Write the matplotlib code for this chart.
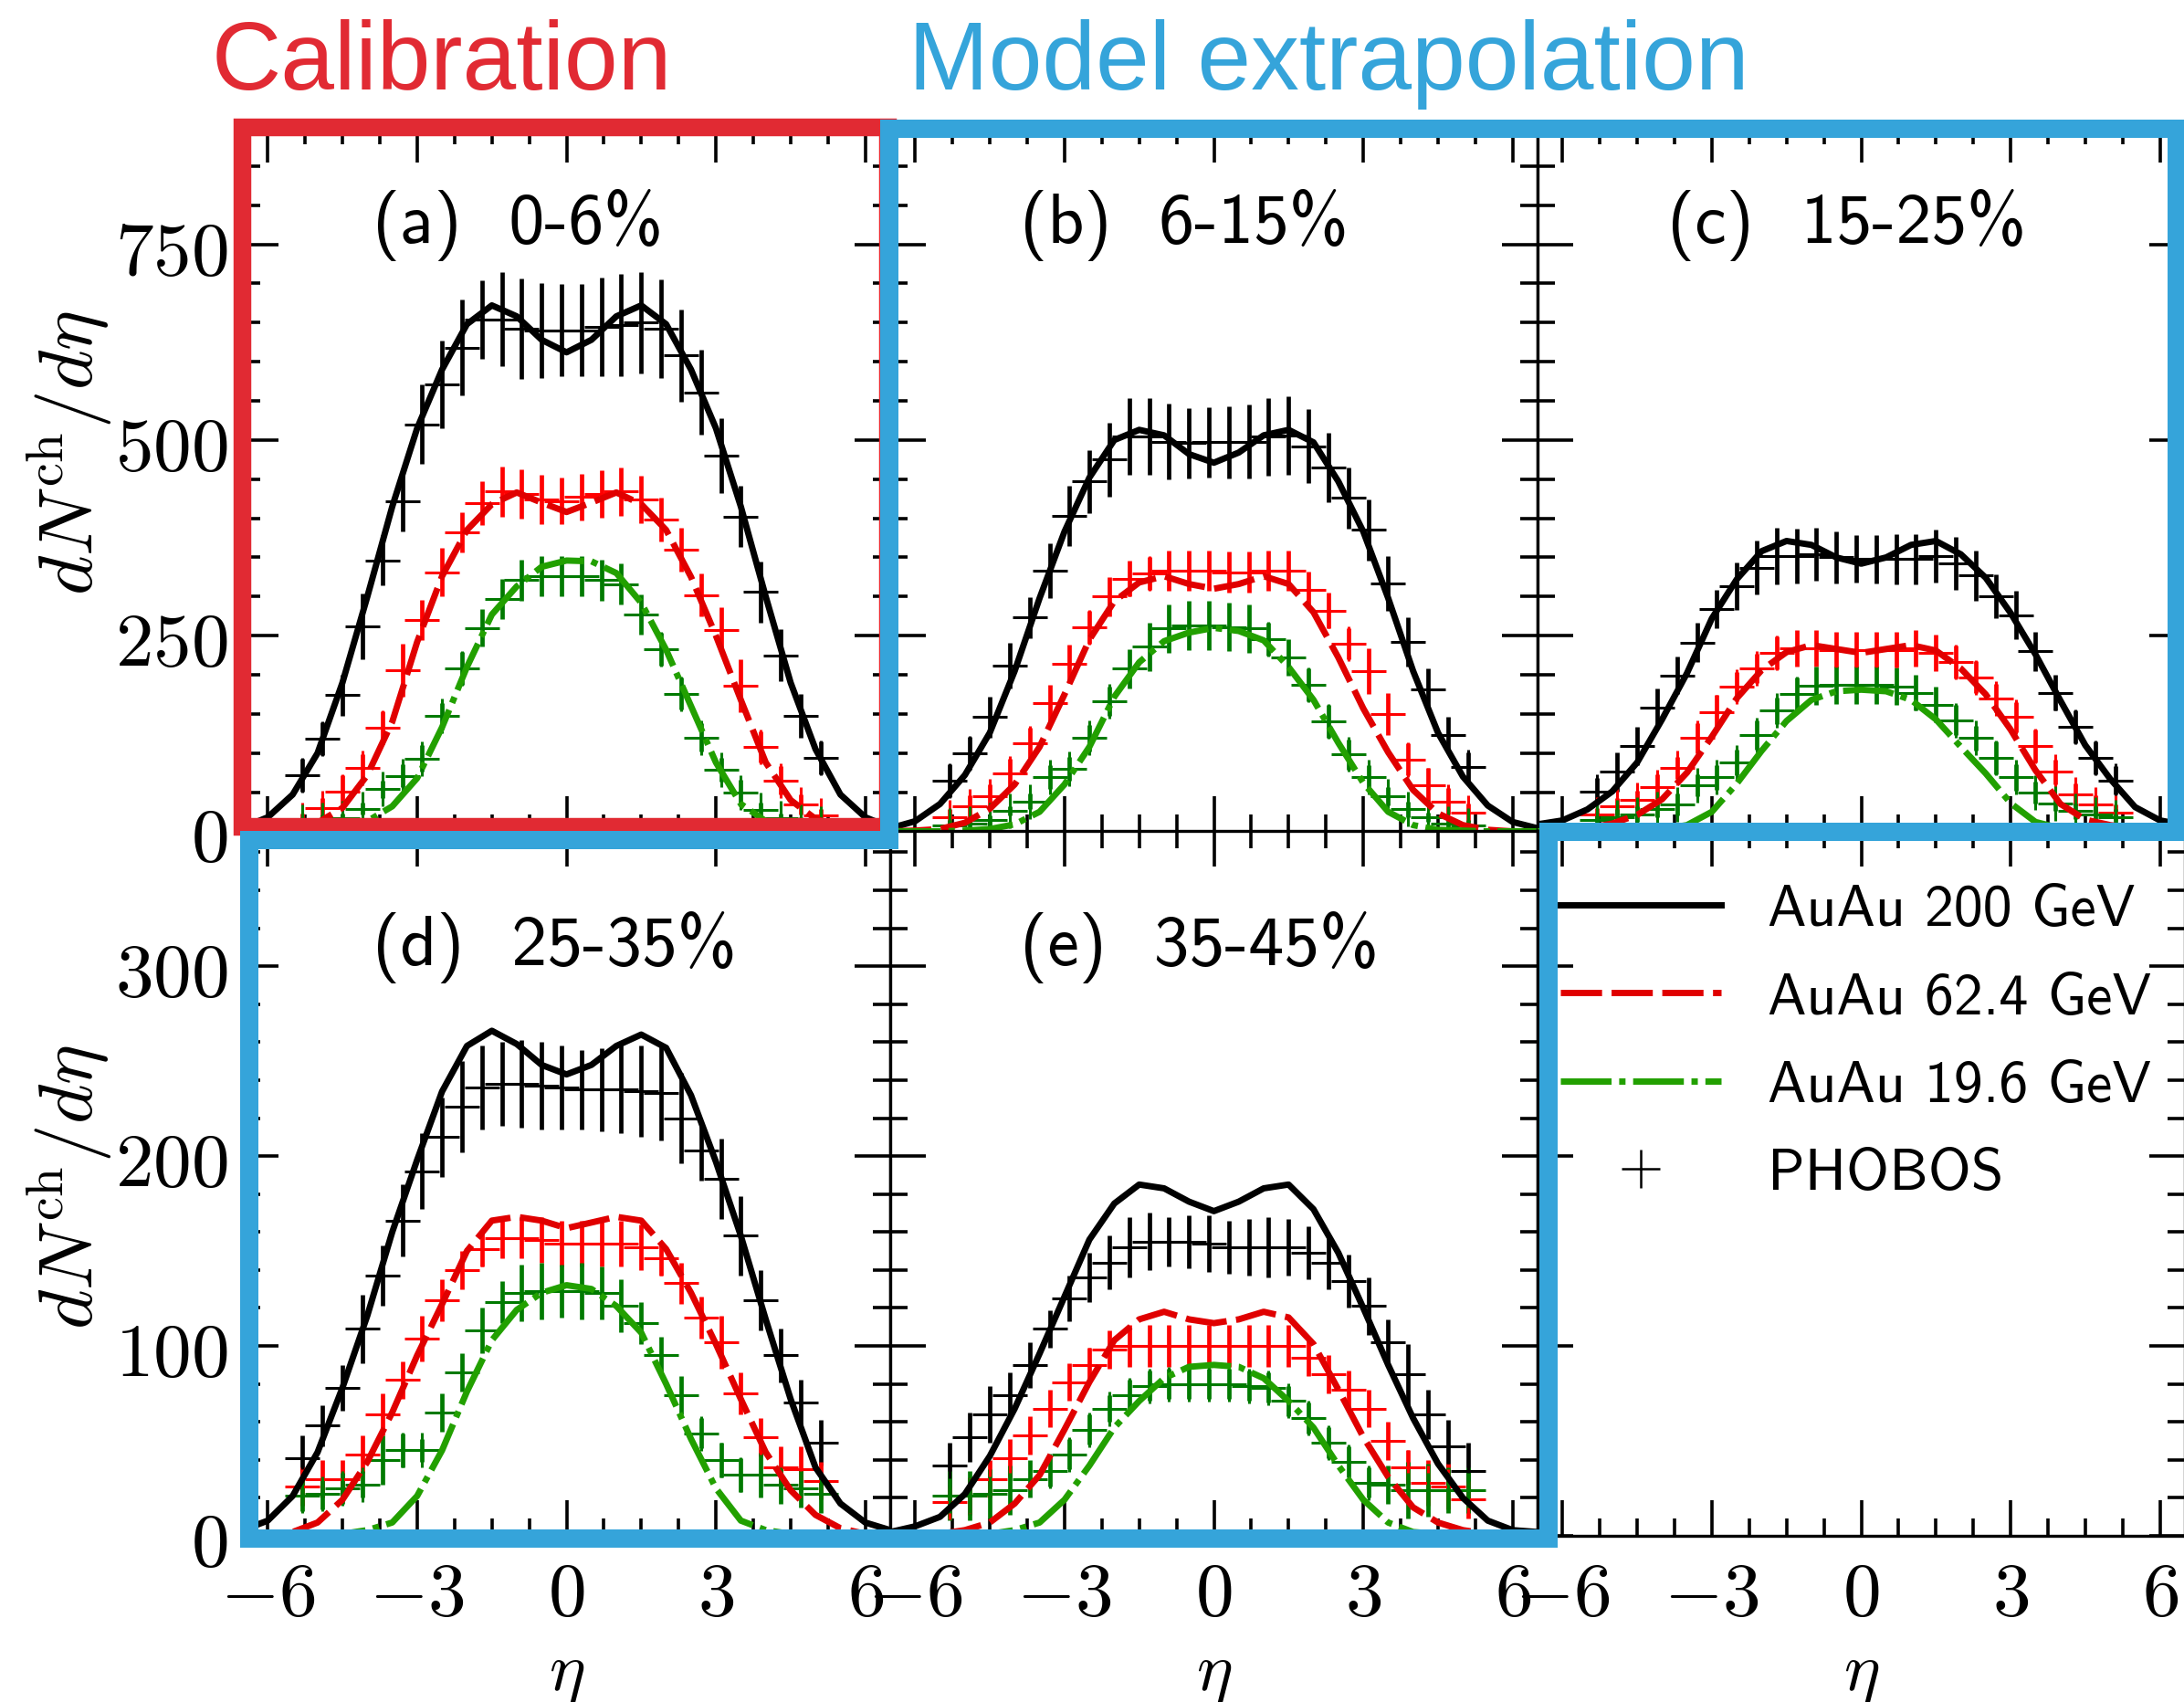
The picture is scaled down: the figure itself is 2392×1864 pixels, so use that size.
import os
import numpy as np
import matplotlib
matplotlib.use("Agg")
import matplotlib.pyplot as plt
from matplotlib import font_manager
from matplotlib.font_manager import FontProperties
from matplotlib.ticker import MultipleLocator, FuncFormatter, NullFormatter
from matplotlib.patches import Polygon

# Computer Modern sans for panel tags and legend text
cmss_path = os.path.join(matplotlib.get_data_path(), "fonts", "ttf", "cmss10.ttf")
font_manager.fontManager.addfont(cmss_path)

plt.rcParams["mathtext.fontset"] = "cm"
plt.rcParams["font.family"] = ["DejaVu Sans"]

# pseudorapidity of the PHOBOS points and of the model grid
eta = [-5.3, -4.9, -4.5, -4.1, -3.7, -3.3, -2.9, -2.5, -2.1, -1.7, -1.3, -0.9, -0.5, -0.1,
       0.3, 0.7, 1.1, 1.5, 1.9, 2.3, 2.7, 3.1, 3.5, 3.9, 4.3, 4.7, 5.1]
eta_model = [-6.5, -6.0, -5.5, -5.0, -4.5, -4.0, -3.5, -3.0, -2.5, -2.0, -1.5, -1.0, -0.5, 0.0,
             0.5, 1.0, 1.5, 2.0, 2.5, 3.0, 3.5, 4.0, 4.5, 5.0, 5.5, 6.0, 6.5]

# (a) 0-6%
a200 = [72, 118, 174, 262, 346, 422, 520, 571, 618, 654, 654, 642, 640, 640, 640, 645, 647, 650, 642, 608, 561, 480, 402, 306, 225, 148, 94]
a200_err = [21, 21, 26, 42, 32, 39, 51, 56, 61, 50, 60, 64, 61, 59, 59, 63, 65, 65, 63, 59, 54, 48, 39, 39, 33, 28, 21]
a62 = [15, 30, 51, 81, 132, 206, 270, 331, 382, 419, 434, 431, 424, 422, 427, 431, 434, 424, 398, 360, 302, 257, 186, 108, 65, 34, 20]
a62_err = [8, 12, 21, 17, 21, 34, 26, 31, 26, 28, 32, 32, 31, 30, 30, 30, 31, 30, 28, 28, 27, 29, 34, 20, 18, 13, 8]
a19 = [12, 15, 17, 29, 54, 71, 93, 147, 208, 260, 297, 321, 326, 326, 326, 321, 316, 277, 233, 176, 120, 79, 49, 27, 17, 12, 10]
a19_err = [6, 6, 6, 8, 11, 15, 17, 17, 21, 24, 26, 26, 26, 26, 26, 26, 26, 26, 21, 20, 18, 15, 17, 10, 6, 6, 6]
m_a200 = [5, 18, 47, 100, 190, 300, 415, 515, 590, 648, 672, 658, 628, 612, 628, 658, 672, 648, 590, 515, 415, 300, 190, 105, 47, 18, 5]
m_a62 = [0, 1, 4, 11, 30, 72, 140, 242, 326, 385, 418, 433, 420, 408, 420, 433, 418, 385, 325, 250, 168, 88, 40, 16, 5, 1, 0]
m_a19 = [0, 0, 0, 1, 4, 13, 32, 68, 133, 210, 277, 313, 338, 346, 345, 330, 292, 232, 160, 88, 35, 13, 4, 1, 0, 0, 0]

# (b) 6-15%
b200 = [65, 100, 146, 212, 273, 333, 403, 447, 475, 504, 504, 498, 496, 497, 497, 498, 504, 506, 492, 465, 426, 385, 317, 242, 181, 123, 82]
b200_err = [21, 21, 26, 29, 26, 35, 39, 40, 47, 49, 49, 48, 45, 45, 46, 47, 50, 50, 47, 44, 39, 39, 35, 32, 27, 23, 19]
b62 = [18, 32, 45, 74, 113, 164, 214, 261, 300, 323, 329, 333, 333, 333, 331, 331, 333, 333, 309, 282, 240, 205, 150, 92, 59, 38, 24]
b62_err = [10, 14, 15, 19, 19, 23, 25, 21, 25, 23, 21, 26, 26, 26, 26, 26, 26, 26, 23, 23, 20, 29, 27, 20, 22, 17, 12]
b19 = [8, 10, 14, 26, 38, 69, 80, 119, 166, 208, 236, 259, 263, 263, 261, 259, 245, 222, 187, 141, 98, 69, 45, 28, 18, 10, 8]
b19_err = [6, 6, 6, 6, 10, 15, 15, 17, 19, 25, 31, 31, 31, 31, 31, 31, 21, 23, 21, 21, 19, 15, 12, 10, 6, 6, 6]
m_b200 = [4, 13, 35, 72, 126, 205, 298, 383, 452, 500, 513, 506, 482, 471, 484, 506, 513, 497, 447, 383, 298, 205, 126, 70, 33, 12, 4]
m_b62 = [0, 1, 3, 11, 29, 60, 108, 175, 245, 294, 318, 326, 316, 310, 316, 326, 316, 280, 222, 157, 101, 53, 23, 8, 2, 0, 0]
m_b19 = [0, 0, 0, 1, 3, 9, 25, 60, 108, 172, 216, 243, 254, 260, 256, 244, 210, 168, 113, 62, 25, 8, 2, 1, 0, 0, 0]

# (c) 15-25%
c200 = [51, 76, 109, 158, 199, 241, 284, 313, 337, 352, 352, 354, 350, 348, 348, 348, 348, 352, 342, 327, 300, 276, 230, 177, 133, 94, 65]
c200_err = [17, 25, 24, 25, 24, 25, 24, 30, 34, 36, 35, 34, 33, 30, 31, 32, 32, 34, 34, 32, 28, 31, 25, 23, 21, 21, 18]
c62 = [22, 32, 40, 57, 81, 119, 152, 185, 208, 228, 234, 234, 232, 232, 232, 232, 234, 228, 216, 197, 170, 146, 109, 76, 47, 34, 24]
c62_err = [8, 10, 12, 16, 14, 19, 22, 19, 19, 21, 23, 23, 23, 23, 23, 23, 23, 23, 21, 20, 18, 19, 21, 16, 14, 12, 10]
c19 = [14, 18, 22, 28, 34, 59, 69, 88, 123, 154, 175, 186, 187, 187, 187, 185, 177, 162, 142, 119, 94, 69, 49, 36, 26, 22, 18]
c19_err = [10, 10, 10, 10, 14, 14, 16, 16, 19, 17, 21, 24, 24, 24, 24, 24, 23, 23, 19, 16, 21, 17, 14, 10, 10, 10, 10]
m_c200 = [9, 14, 28, 51, 88, 143, 202, 272, 322, 358, 371, 366, 350, 342, 350, 366, 371, 354, 324, 279, 226, 167, 110, 67, 31, 14, 8]
m_c62 = [0, 1, 4, 10, 21, 41, 75, 121, 170, 206, 229, 238, 233, 228, 233, 238, 231, 208, 175, 130, 78, 35, 15, 8, 4, 1, 0]
m_c19 = [0, 0, 0, 0, 1, 3, 8, 25, 61, 103, 141, 168, 179, 181, 179, 168, 143, 108, 74, 36, 12, 4, 1, 0, 0, 0, 0]

# (d) 25-35%
d200 = [41, 58, 78, 109, 137, 166, 192, 210, 226, 236, 238, 238, 237, 236, 235, 235, 235, 234, 233, 220, 203, 188, 158, 124, 95, 70, 49]
d200_err = [12, 11, 12, 18, 16, 19, 20, 21, 24, 22, 22, 23, 23, 22, 21, 22, 23, 24, 25, 24, 16, 21, 21, 16, 14, 12, 12]
d62 = [26, 30, 30, 43, 64, 82, 104, 124, 140, 151, 157, 157, 156, 154, 154, 154, 154, 152, 146, 133, 115, 102, 75, 52, 36, 35, 29]
d62_err = [10, 10, 10, 10, 11, 10, 12, 11, 10, 9, 11, 11, 12, 12, 12, 12, 12, 12, 9, 11, 11, 14, 11, 10, 11, 12, 10]
d19 = [21, 22, 25, 27, 40, 45, 45, 65, 86, 108, 123, 128, 129, 129, 129, 128, 121, 112, 95, 74, 54, 40, 32, 32, 27, 25, 22]
d19_err = [8, 8, 8, 7, 13, 9, 6, 10, 10, 12, 11, 15, 15, 14, 15, 14, 14, 11, 10, 10, 8, 9, 9, 12, 10, 10, 10]
m_d200 = [3, 8, 21, 44, 78, 116, 160, 198, 234, 258, 266, 259, 248, 243, 248, 258, 264, 257, 232, 197, 158, 114, 72, 36, 17, 7, 3]
m_d62 = [0, 1, 2, 7, 19, 39, 65, 95, 122, 150, 166, 168, 166, 162, 165, 168, 166, 151, 128, 101, 72, 44, 24, 11, 4, 1, 0]
m_d19 = [0, 0, 0, 0, 1, 3, 7, 21, 45, 76, 103, 119, 128, 132, 130, 121, 107, 80, 51, 25, 8, 3, 1, 0, 0, 0, 0]

# (e) 35-45%
e200 = [37, 52, 64, 74, 90, 109, 125, 136, 144, 152, 155, 155, 155, 154, 152, 152, 152, 152, 149, 144, 134, 121, 102, 85, 64, 47, 34]
e200_err = [12, 13, 15, 12, 12, 10, 12, 13, 14, 16, 15, 13, 14, 15, 14, 15, 16, 15, 14, 14, 14, 15, 12, 16, 13, 14, 15]
e62 = [18, 21, 30, 41, 53, 67, 81, 90, 98, 100, 100, 100, 100, 100, 100, 100, 100, 100, 94, 85, 77, 67, 50, 36, 28, 26, 19]
e62_err = [8, 10, 10, 10, 10, 10, 10, 9, 10, 11, 11, 11, 11, 11, 11, 11, 11, 11, 10, 10, 10, 10, 10, 9, 12, 12, 10]
e19 = [21, 21, 22, 24, 30, 34, 43, 56, 67, 74, 79, 80, 80, 80, 80, 79, 78, 71, 62, 49, 39, 28, 27, 24, 24, 24, 24]
e19_err = [13, 13, 13, 13, 10, 8, 8, 8, 7, 8, 8, 8, 8, 8, 8, 8, 8, 8, 8, 8, 8, 8, 10, 15, 14, 12, 12]
m_e200 = [2, 5, 10, 22, 42, 67, 96, 126, 156, 175, 185, 183, 176, 171, 176, 183, 185, 172, 149, 120, 90, 62, 38, 20, 8, 3, 2]
m_e62 = [0, 0, 1, 3, 7, 17, 32, 56, 81, 103, 114, 118, 114, 112, 114, 118, 115, 101, 77, 52, 31, 15, 7, 3, 1, 0, 0]
m_e19 = [0, 0, 0, 0, 1, 3, 7, 19, 37, 57, 71, 83, 89, 90, 89, 83, 71, 57, 37, 19, 7, 2, 1, 0, 0, 0, 0]

panel_tags = ["(a)  0-6%", "(b)  6-15%", "(c)  15-25%", "(d)  25-35%", "(e)  35-45%"]
energy_labels = ["AuAu 200 GeV", "AuAu 62.4 GeV", "AuAu 19.6 GeV"]

panels = [
    [(a200, a200_err, m_a200), (a62, a62_err, m_a62), (a19, a19_err, m_a19)],
    [(b200, b200_err, m_b200), (b62, b62_err, m_b62), (b19, b19_err, m_b19)],
    [(c200, c200_err, m_c200), (c62, c62_err, m_c62), (c19, c19_err, m_c19)],
    [(d200, d200_err, m_d200), (d62, d62_err, m_d62), (d19, d19_err, m_d19)],
    [(e200, e200_err, m_e200), (e62, e62_err, m_e62), (e19, e19_err, m_e19)],
]

model_style = [
    dict(color="black", ls="-"),
    dict(color="#e00000", dashes=(6.5, 1.5)),
    dict(color="#22a000", dashes=(8, 1.2, 1.0, 1.2)),
]
data_color = ["black", "#ff0000", "#007a00"]

W, H, DPI = 2392, 1865, 200
fig = plt.figure(figsize=(W / DPI, H / DPI), dpi=DPI)

# panel grid in pixels
X0, PW = 266, 709
Y0, PH = 140, 771.5


def px_axes(col, row):
    left = X0 + col * PW
    top = Y0 + row * PH
    return fig.add_axes([left / W, 1 - (top + PH) / H, PW / W, PH / H])


math_fmt = FuncFormatter(lambda v, p: r"$%d$" % v)


def style_axes(ax, row, show_x, show_y):
    ax.set_xlim(-6.5, 6.5)
    if row == 0:
        ax.set_ylim(0, 900)
        ax.yaxis.set_major_locator(MultipleLocator(250))
        ax.yaxis.set_minor_locator(MultipleLocator(50))
    else:
        ax.set_ylim(0, 371)
        ax.yaxis.set_major_locator(MultipleLocator(100))
        ax.yaxis.set_minor_locator(MultipleLocator(20))
    ax.xaxis.set_major_locator(MultipleLocator(3))
    ax.xaxis.set_minor_locator(MultipleLocator(0.75))
    ax.tick_params(which="both", direction="in", top=True, right=True, width=1.3)
    ax.tick_params(which="major", length=14)
    ax.tick_params(which="minor", length=7)
    ax.tick_params(axis="x", pad=8, labelsize=30)
    ax.tick_params(axis="y", pad=6, labelsize=30)
    ax.xaxis.set_major_formatter(math_fmt if show_x else NullFormatter())
    ax.yaxis.set_major_formatter(math_fmt if show_y else NullFormatter())
    for s in ax.spines.values():
        s.set_linewidth(1.2)
    if show_x:
        ax.set_xlabel(r"$\eta$", fontsize=27)
        ax.xaxis.set_label_coords(0.5, -0.146)


axes = []
legend_lines = []
for i in range(5):
    row, col = divmod(i, 3)
    ax = px_axes(col, row)
    style_axes(ax, row, show_x=(row == 1), show_y=(col == 0))
    for j, (vals, errs, model) in enumerate(panels[i]):
        ax.errorbar(eta, vals, yerr=errs, fmt="+", color=data_color[j], ms=14, mew=1.1,
                    elinewidth=1.7, capsize=0, zorder=2)
        line, = ax.plot(eta_model, model, lw=2.5, zorder=3, label=energy_labels[j],
                        **model_style[j])
        if i == 0:
            legend_lines.append(line)
    tag_y = 0.862 if row == 0 else 0.837
    ax.text(0.2, tag_y, panel_tags[i], transform=ax.transAxes, va="center", ha="left",
            fontproperties=FontProperties(fname=cmss_path, size=28))
    axes.append(ax)

# empty sixth panel carries the legend
ax_f = px_axes(2, 1)
style_axes(ax_f, 1, show_x=True, show_y=False)
phobos, = ax_f.plot([], [], "+", color="black", ms=15, mew=0.9)
ax_f.legend(handles=legend_lines + [phobos], labels=energy_labels + ["PHOBOS"],
            loc="upper left", bbox_to_anchor=(0.035, 0.925), frameon=False,
            prop=FontProperties(fname=cmss_path, size=23), handlelength=2.75,
            handletextpad=0.8, labelspacing=0.6, borderpad=0, borderaxespad=0)

# y labels
ylab = r"$dN^{\rm ch}/d\eta$"
fig.text(76 / W, 1 - 496 / H, ylab, rotation=90, ha="center", va="center", fontsize=30)
fig.text(76 / W, 1 - 1300 / H, ylab, rotation=90, ha="center", va="center", fontsize=30)

# calibration / extrapolation outlines
RED = "#e12a33"
BLUE = "#35a4da"


def to_fig(pts):
    return [(x / W, 1 - y / H) for x, y in pts]


red_box = [(X0 - 1, Y0 + PH - 6), (X0 - 1, Y0), (X0 + PW - 3, Y0), (X0 + PW - 3, Y0 + PH - 6)]
blue_box = [(X0 + PW - 1, Y0 + PH + 9), (X0 + PW - 1, Y0 + 2), (X0 + 3 * PW - 9, Y0 + 2),
            (X0 + 3 * PW - 9, Y0 + PH), (X0 + 2 * PW + 12, Y0 + PH),
            (X0 + 2 * PW + 12, Y0 + 2 * PH + 3), (X0 + 7, Y0 + 2 * PH + 3), (X0 + 7, Y0 + PH + 9)]
fig.add_artist(Polygon(to_fig(red_box), closed=True, fill=False, edgecolor=RED, lw=7,
                       joinstyle="miter", transform=fig.transFigure, zorder=10))
fig.add_artist(Polygon(to_fig(blue_box), closed=True, fill=False, edgecolor=BLUE, lw=7.2,
                       joinstyle="miter", transform=fig.transFigure, zorder=11))

fig.text(232 / W, 1 - 98 / H, "Calibration", color=RED, fontsize=38, ha="left",
         va="baseline", family=["Liberation Sans", "DejaVu Sans"])
fig.text(995 / W, 1 - 98 / H, "Model extrapolation", color=BLUE, fontsize=38, ha="left",
         va="baseline", family=["Liberation Sans", "DejaVu Sans"])

fig.savefig("out.png", dpi=DPI)
